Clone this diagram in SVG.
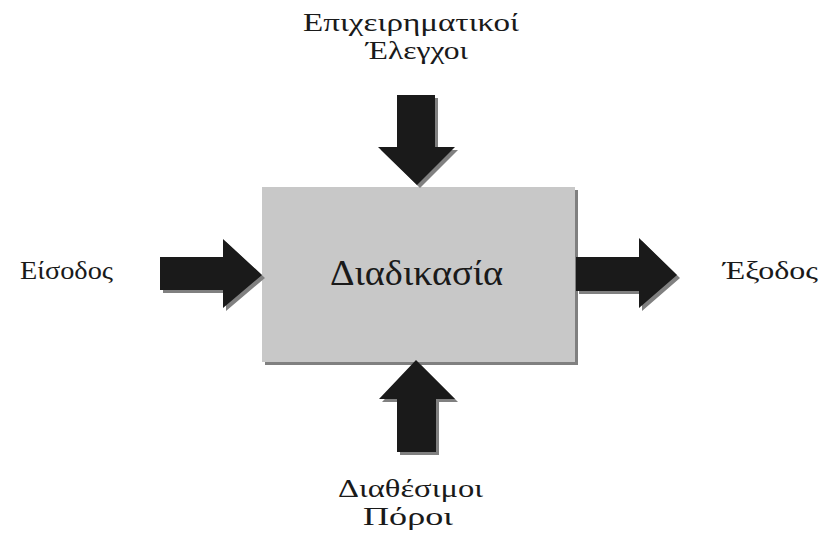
<svg xmlns="http://www.w3.org/2000/svg" width="822" height="542" viewBox="0 0 822 542">
  <style>
    .lbl { font-family: "Liberation Serif", "DejaVu Serif", serif; font-size: 26px; fill: #1a1a1a; }
    .title { font-family: "Liberation Serif", "DejaVu Serif", serif; font-size: 36px; fill: #1a1a1a; }
    .arrow { fill: #1a1a1a; }
    .shadow { fill: #808080; }
  </style>
  <rect width="822" height="542" fill="#ffffff"/>

  <!-- central process box -->
  <g id="process">
    <rect x="265" y="190" width="313" height="175" class="shadow"/>
    <rect x="262" y="187" width="313" height="175" fill="#c8c8c8"/>
    <text x="330" y="285" class="title" textLength="173" lengthAdjust="spacingAndGlyphs">Διαδικασία</text>
  </g>

  <!-- block arrows -->
  <g id="connectors">
    <!-- top: controls -->
    <polygon class="shadow" points="400,98 438,98 438,150 458,150 420,188 381,150 400,150"/>
    <polygon class="arrow" points="397,95 435,95 435,147 455,147 417,185 378,147 397,147"/>
    <!-- left: input -->
    <polygon class="shadow" points="163,260 226,260 226,242 265,278 226,311 226,293 163,293"/>
    <polygon class="arrow" points="160,257 223,257 223,239 262,275 223,308 223,290 160,290"/>
    <!-- right: output -->
    <polygon class="shadow" points="579,260 642,260 642,241 680,278 642,311 642,294 579,294"/>
    <polygon class="arrow" points="576,257 639,257 639,238 677,275 639,308 639,291 576,291"/>
    <!-- bottom: resources -->
    <polygon class="shadow" points="419,363 458,402 439,402 439,455 400,455 400,402 382,402"/>
    <polygon class="arrow" points="416,360 455,399 436,399 436,452 397,452 397,399 379,399"/>
  </g>

  <g id="controls">
    <text x="303" y="31" class="lbl" textLength="216" lengthAdjust="spacingAndGlyphs">Επιχειρηματικοί</text>
    <text x="366" y="59" class="lbl" textLength="102" lengthAdjust="spacingAndGlyphs">Έλεγχοι</text>
  </g>
  <g id="input">
    <text x="20" y="279" class="lbl" textLength="93" lengthAdjust="spacingAndGlyphs">Είσοδος</text>
  </g>
  <g id="output">
    <text x="723" y="279" class="lbl" textLength="95" lengthAdjust="spacingAndGlyphs">Έξοδος</text>
  </g>
  <g id="resources">
    <text x="338" y="497" class="lbl" textLength="145" lengthAdjust="spacingAndGlyphs">Διαθέσιμοι</text>
    <text x="363" y="525" class="lbl" textLength="90" lengthAdjust="spacingAndGlyphs">Πόροι</text>
  </g>
</svg>
